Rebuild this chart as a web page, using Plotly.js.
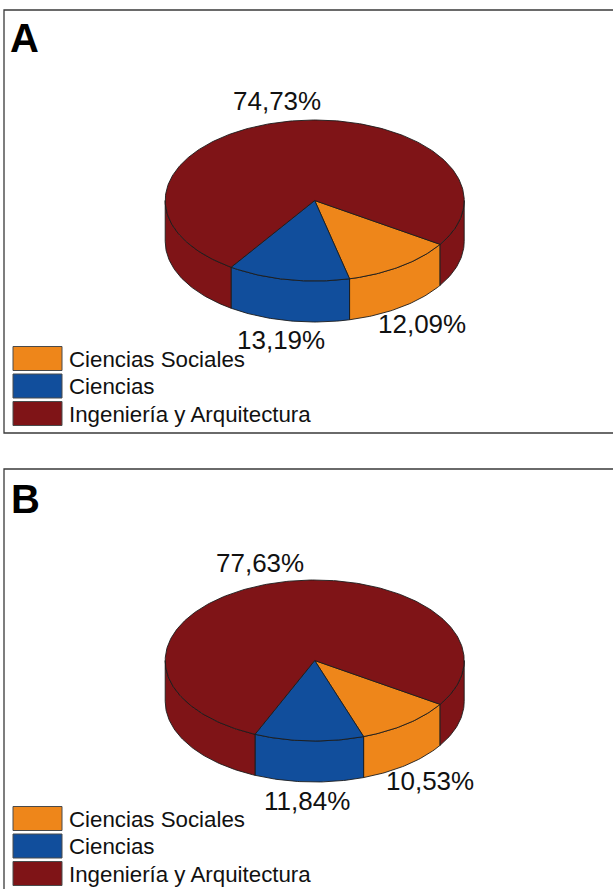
<!DOCTYPE html>
<html>
<head>
<meta charset="utf-8">
<script src="https://cdn.plot.ly/plotly-3.0.1.min.js"></script>
<style>html,body{margin:0;padding:0;background:#fff;overflow:hidden}#chart{width:613px;height:889px}</style>
</head>
<body>
<div id="chart"></div>
<script>
// ---- data ----
const categories = ["Ciencias Sociales", "Ciencias", "Ingeniería y Arquitectura"];
const valuesA = [12.09, 13.19, 74.73];
const valuesB = [10.53, 11.84, 77.63];
const labelsA = ["12,09%", "13,19%", "74,73%"];
const labelsB = ["10,53%", "11,84%", "77,63%"];
const colors = ["#EE861A", "#114E9C", "#7F1417"];

// ---- presentation ----
const W = 613, H = 889;
const FONT = '"Liberation Sans", Arial, sans-serif';
const INK = "#1c1c1c";
const PIE = {cx: 314.7, cy: 200.5, rx: 149.5, ry: 80.5, depth: 41, start: 33};
const labelPosA = [[422, 324], [281, 340], [276.5, 101]];
const labelPosB = [[429.5, 321], [307, 341], [260, 103]];
const swatchTops = [346.5, 374, 401.5];
const PANEL_HEIGHTS = {a: 440, b: 429};

function pt(t, drop) {
  const r = t * Math.PI / 180;
  return [PIE.cx + PIE.rx * Math.cos(r), PIE.cy + PIE.ry * Math.sin(r) + (drop || 0)];
}
function arc(a, b, drop) {
  const out = [], n = Math.max(2, Math.ceil(Math.abs(b - a)));
  for (let i = 0; i <= n; i++) out.push(pt(a + (b - a) * i / n, drop));
  return out;
}
function spans(values) {
  const total = values.reduce((s, v) => s + v, 0);
  let cur = PIE.start;
  return values.map(v => { const a = cur; cur += v / total * 360; return [a, cur]; });
}
function traceFrom(points, color, name, xa, ya) {
  return {
    type: "scatter", mode: "lines", xaxis: xa, yaxis: ya, name: name, showlegend: false,
    x: points.map(p => p ? p[0] : null), y: points.map(p => p ? p[1] : null),
    fill: "toself", fillcolor: color, line: {color: INK, width: 0.9},
    hoverinfo: "name", cliponaxis: false
  };
}
function pieTraces(values, xa, ya) {
  const sp = spans(values), traces = [];
  // walls: only the part of each slice on the front half of the disc
  sp.forEach(([a, b], i) => {
    let pts = [];
    [0, 360].forEach(off => {
      const s = Math.max(a, off), e = Math.min(b, off + 180);
      if (e > s) {
        if (pts.length) pts.push(null);
        const top = arc(s, e), bot = arc(e, s, PIE.depth);
        pts = pts.concat(top, bot, [top[0]]);
      }
    });
    if (pts.length) traces.push(traceFrom(pts, colors[i], categories[i] + " (lateral)", xa, ya));
  });
  // top faces
  sp.forEach(([a, b], i) => {
    const c = [PIE.cx, PIE.cy];
    traces.push(traceFrom([c].concat(arc(a, b), [c]), colors[i], categories[i], xa, ya));
  });
  return traces;
}

const data = pieTraces(valuesA, "x", "y").concat(pieTraces(valuesB, "x2", "y2"));

const shapes = [], annotations = [];
function panelDecor(letter, letterPos, labels, labelPos, xr, yr) {
  annotations.push({xref: xr, yref: yr, x: letterPos[0], y: letterPos[1], text: "<b>" + letter + "</b>",
    showarrow: false, xanchor: "left", yanchor: "middle", borderpad: 0,
    font: {family: FONT, size: 40, color: "#000"}});
  labels.forEach((t, i) => annotations.push({xref: xr, yref: yr, x: labelPos[i][0], y: labelPos[i][1], text: t,
    showarrow: false, xanchor: "center", yanchor: "middle", borderpad: 0,
    font: {family: FONT, size: 26, color: "#111"}}));
  categories.forEach((c, i) => {
    shapes.push({type: "rect", xref: xr, yref: yr, x0: 13, x1: 62, y0: swatchTops[i], y1: swatchTops[i] + 24,
      fillcolor: colors[i], line: {color: "#4a4a4a", width: 1}});
    annotations.push({xref: xr, yref: yr, x: 68, y: swatchTops[i] + 12.5, text: c,
      showarrow: false, xanchor: "left", yanchor: "middle", borderpad: 0,
      font: {family: FONT, size: 22.3, color: "#111"}});
  });
}
panelDecor("A", [9, 38], labelsA, labelPosA, "x", "y");
panelDecor("B", [9.5, 39], labelsB, labelPosB, "x2", "y2");

// panel frames (open where the picture crops them)
shapes.push({type: "path", xref: "x", yref: "y", path: `M ${W} 10 L 4 10 L 4 433 L ${W} 433`,
  line: {color: "#3a3a3a", width: 1.3}});
shapes.push({type: "path", xref: "x2", yref: "y2", path: `M ${W} 9 L 4 9 L 4 ${PANEL_HEIGHTS.b}`,
  line: {color: "#3a3a3a", width: 1.3}});

const hiddenAxis = {visible: false, fixedrange: true};
const layout = {
  width: W, height: H, margin: {l: 0, r: 0, t: 0, b: 0},
  paper_bgcolor: "#fff", plot_bgcolor: "#fff", showlegend: false, hovermode: "closest",
  xaxis: Object.assign({range: [0, W], domain: [0, 1], anchor: "y"}, hiddenAxis),
  yaxis: Object.assign({range: [PANEL_HEIGHTS.a, 0], domain: [1 - PANEL_HEIGHTS.a / H, 1], anchor: "x"}, hiddenAxis),
  xaxis2: Object.assign({range: [0, W], domain: [0, 1], anchor: "y2"}, hiddenAxis),
  yaxis2: Object.assign({range: [PANEL_HEIGHTS.b, 0], domain: [0, PANEL_HEIGHTS.b / H], anchor: "x2"}, hiddenAxis),
  shapes: shapes, annotations: annotations
};
Plotly.newPlot("chart", data, layout, {displayModeBar: false, staticPlot: true});
</script>
</body>
</html>
